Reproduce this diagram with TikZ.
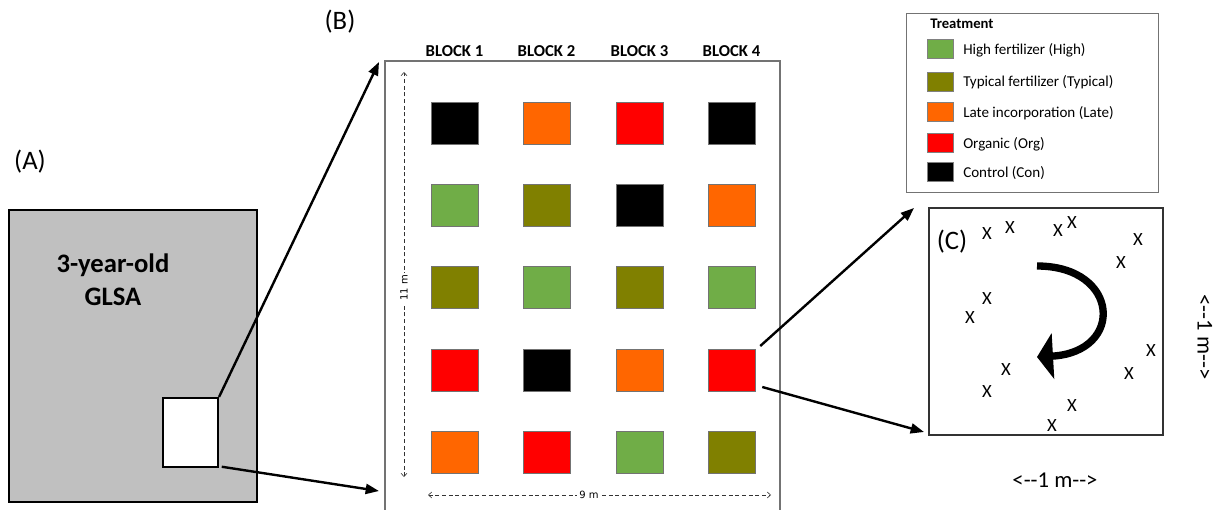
\documentclass[tikz,border=0pt]{standalone}
\usepackage{fontspec}
\setmainfont{Carlito}
\newfontfamily\dejavu{DejaVu Sans}
\usetikzlibrary{arrows.meta}
\definecolor{cgreen}{HTML}{70AD47}
\definecolor{colive}{HTML}{808000}
\definecolor{corange}{HTML}{FF6600}
\definecolor{cred}{HTML}{FF0000}
\definecolor{cfield}{HTML}{C0C0C0}
\begin{document}
\begin{tikzpicture}[x=0.75pt,y=-0.75pt,
  plotbox/.style={draw=black!55, line width=0.4pt, minimum width={47*0.75pt}, minimum height={42*0.75pt}, inner sep=0pt},
  swatch/.style={draw=black!50, line width=0.4pt, minimum width={26*0.75pt}, minimum height={19*0.75pt}, inner sep=0pt},
  bigarrow/.style={line width=1.8pt, -{Triangle[length=10pt,width=7.5pt]}},
  dimline/.style={densely dashed, line width=0.45pt, black!80, {Straight Barb[length=2.5pt,width=4.5pt]}-{Straight Barb[length=2.5pt,width=4.5pt]}},
  dimlabel/.style={fill=white, inner sep=1.5pt, font=\dejavu\fontsize{7.5}{8}\selectfont},
  panellabel/.style={font=\fontsize{20}{22}\selectfont, inner sep=0pt},
  blocklabel/.style={font=\bfseries\fontsize{12.5}{14}\selectfont, inner sep=0pt},
  legtext/.style={anchor=west, font=\fontsize{11.3}{13}\selectfont, inner sep=0pt},
  xmark/.style={font=\fontsize{14}{14}\selectfont, inner sep=0pt}
]
\useasboundingbox (0,0) rectangle (1218,510);

% ---------- panel A ----------
\node[panellabel] (labA) at (30,162) {(A)};
\node[draw=black, line width=1.6pt, fill=cfield, minimum width={248*0.75pt}, minimum height={292*0.75pt}, inner sep=0pt] (field) at (133,356) {};
\node[align=center, font=\bfseries\fontsize{20}{25}\selectfont, inner sep=0pt] (glsa) at (113,280) {3-year-old\\GLSA};
\node[draw=black, line width=1.6pt, fill=white, minimum width={55*0.75pt}, minimum height={69*0.75pt}, inner sep=0pt] (zoomA) at (190.5,432.5) {};

% ---------- panel B ----------
\node[panellabel] (labB) at (340,22) {(B)};
\coordinate (Btl) at (385,61);
\coordinate (Btr) at (780,61);
\coordinate (Bbl) at (385,512);
\coordinate (Bbr) at (780,512);
\draw[black!55, line width=0.8pt] (Bbl) -- (Btl) -- (Btr) -- (Bbr);

\node[blocklabel] (b1) at (454.5,51) {BLOCK 1};
\node[blocklabel] (b2) at (546.5,51) {BLOCK 2};
\node[blocklabel] (b3) at (639.5,51) {BLOCK 3};
\node[blocklabel] (b4) at (731.5,51) {BLOCK 4};

% row 1
\node[plotbox, fill=black]   (s11) at (454.5,123) {};
\node[plotbox, fill=corange] (s12) at (546.5,123) {};
\node[plotbox, fill=cred]    (s13) at (639.5,123) {};
\node[plotbox, fill=black]   (s14) at (731.5,123) {};
% row 2
\node[plotbox, fill=cgreen]  (s21) at (454.5,205) {};
\node[plotbox, fill=colive]  (s22) at (546.5,205) {};
\node[plotbox, fill=black]   (s23) at (639.5,205) {};
\node[plotbox, fill=corange] (s24) at (731.5,205) {};
% row 3
\node[plotbox, fill=colive]  (s31) at (454.5,287.5) {};
\node[plotbox, fill=cgreen]  (s32) at (546.5,287.5) {};
\node[plotbox, fill=colive]  (s33) at (639.5,287.5) {};
\node[plotbox, fill=cgreen]  (s34) at (731.5,287.5) {};
% row 4
\node[plotbox, fill=cred]    (s41) at (454.5,370) {};
\node[plotbox, fill=black]   (s42) at (546.5,370) {};
\node[plotbox, fill=corange] (s43) at (639.5,370) {};
\node[plotbox, fill=cred]    (s44) at (731.5,370) {};
% row 5
\node[plotbox, fill=corange] (s51) at (454.5,452.5) {};
\node[plotbox, fill=cred]    (s52) at (546.5,452.5) {};
\node[plotbox, fill=cgreen]  (s53) at (639.5,452.5) {};
\node[plotbox, fill=colive]  (s54) at (731.5,452.5) {};

% dimensions
\coordinate (vtop) at (404,72);
\coordinate (vbot) at (404,477);
\draw[dimline] (vbot) -- (vtop);
\node[dimlabel, rotate=90] (m11) at (404,288) {11 m};
\coordinate (hleft) at (428,495);
\coordinate (hright) at (771,495);
\draw[dimline] (hleft) -- (hright);
\node[dimlabel] (m9) at (589,495) {9 m};

% arrows A -> B
\coordinate (Bin1) at (379,62);
\coordinate (Bin2) at (379,491);
\draw[bigarrow] (zoomA.north east) -- (Bin1);
\draw[bigarrow] ([xshift=2pt,yshift=1pt]zoomA.south east) -- (Bin2);

% ---------- legend ----------
\node[draw=black!55, line width=0.6pt, minimum width={252*0.75pt}, minimum height={179*0.75pt}, inner sep=0pt] (legend) at (1032,102.5) {};
\node[anchor=west, font=\bfseries\fontsize{11}{13}\selectfont, inner sep=0pt] (legtitle) at (930,24) {Treatment};
\node[swatch, fill=cgreen]  (sw1) at (940,49) {};
\node[swatch, fill=colive]  (sw2) at (940,81.5) {};
\node[swatch, fill=corange] (sw3) at (940,112) {};
\node[swatch, fill=cred]    (sw4) at (940,143) {};
\node[swatch, fill=black]   (sw5) at (940,172) {};
\node[legtext] (lt1) at (963,50) {High fertilizer (High)};
\node[legtext] (lt2) at (963,82) {Typical fertilizer (Typical)};
\node[legtext] (lt3) at (963,113) {Late incorporation (Late)};
\node[legtext] (lt4) at (963,144) {Organic (Org)};
\node[legtext] (lt5) at (963,173) {Control (Con)};

% ---------- panel C ----------
\node[draw=black!80, line width=0.8pt, minimum width={234*0.75pt}, minimum height={227*0.75pt}, inner sep=0pt] (plotC) at (1046,321.5) {};
\node[panellabel] (labC) at (952,242) {(C)};
\coordinate (Cin1) at (914,208);
\coordinate (Cin2) at (924,432);
\draw[bigarrow] ([xshift=3.75pt,yshift=18pt]s44.east) -- (Cin1);
\draw[bigarrow] ([xshift=5.25pt,yshift=-12.75pt]s44.east) -- (Cin2);

\node[xmark] (x1)  at (987,234) {X};
\node[xmark] (x2)  at (1010,228) {X};
\node[xmark] (x3)  at (1058,231) {X};
\node[xmark] (x4)  at (1072,223) {X};
\node[xmark] (x5)  at (1138,240) {X};
\node[xmark] (x6)  at (1121,263) {X};
\node[xmark] (x7)  at (987,299) {X};
\node[xmark] (x8)  at (970,318) {X};
\node[xmark] (x9)  at (1151,351) {X};
\node[xmark] (x10) at (1129,374) {X};
\node[xmark] (x11) at (1006,370) {X};
\node[xmark] (x12) at (987,392) {X};
\node[xmark] (x13) at (1072,406) {X};
\node[xmark] (x14) at (1052,426) {X};

\coordinate (rotstart) at (1037,266);
\coordinate (rotend) at (1037,357);
\draw[line width=5.5pt, -{Triangle[length=12pt,width=34pt]}] (rotstart) .. controls (1120,266) and (1125,352) .. (rotend);

\node[font=\fontsize{17}{18}\selectfont, rotate=-90, inner sep=0pt] (oneV) at (1205,337) {<-{}-1 m-{}->};
\node[font=\fontsize{17}{18}\selectfont, inner sep=0pt] (oneH) at (1055,480) {<-{}-1 m-{}->};
\end{tikzpicture}
\end{document}
